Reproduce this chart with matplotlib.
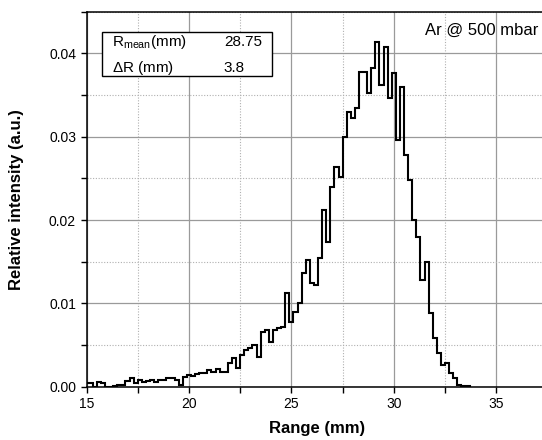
import numpy as np
import matplotlib
matplotlib.use('Agg')
import matplotlib.pyplot as plt
from matplotlib.patches import Rectangle
from matplotlib.ticker import MultipleLocator, FormatStrFormatter

plt.rcParams['font.family'] = ['Liberation Sans', 'DejaVu Sans']
plt.rcParams['mathtext.fontset'] = 'custom'
plt.rcParams['mathtext.rm'] = 'Liberation Sans'

# histogram of ranges, 0.2 mm bins (bin centres 15.0 ... 33.6)
bin_width = 0.2
range_centres = np.round(np.arange(15.0, 33.61, bin_width), 1)
intensity = [
    0.0004, 0.0004, 0.0000, 0.0006, 0.0005, 0.0000, 0.0000, 0.0001, 0.0002, 0.0002,  # 15.0-16.8
    0.0007, 0.0010, 0.0004, 0.0008, 0.0006, 0.0007, 0.0008, 0.0006, 0.0008, 0.0008,  # 17.0-18.8
    0.0010, 0.0011, 0.0008, 0.0002, 0.0012, 0.0014, 0.0013, 0.0015, 0.0016, 0.0017,  # 19.0-20.8
    0.0020, 0.0018, 0.0021, 0.0018, 0.0018, 0.0028, 0.0034, 0.0022, 0.0038, 0.0044,  # 21.0-22.8
    0.0046, 0.0050, 0.0036, 0.0066, 0.0068, 0.0054, 0.0068, 0.0070, 0.0072, 0.0112,  # 23.0-24.8
    0.0078, 0.0090, 0.0100, 0.0136, 0.0152, 0.0124, 0.0122, 0.0154, 0.0212, 0.0174,  # 25.0-26.8
    0.0240, 0.0264, 0.0252, 0.0300, 0.0330, 0.0322, 0.0334, 0.0378, 0.0378, 0.0352,  # 27.0-28.8
    0.0382, 0.0414, 0.0362, 0.0408, 0.0346, 0.0376, 0.0296, 0.0360, 0.0278, 0.0248,  # 29.0-30.8
    0.0200, 0.0180, 0.0128, 0.0150, 0.0088, 0.0058, 0.0040, 0.0026, 0.0029, 0.0016,  # 31.0-32.8
    0.0011, 0.0002, 0.0001, 0.0001,                                                  # 33.0-33.6
]

stat_labels = [r'R$_{\mathregular{mean}}$(mm)', r'$\Delta$R (mm)']
stat_values = ['28.75', '3.8']
condition = 'Ar @ 500 mbar'

edges = np.append(range_centres - bin_width / 2, range_centres[-1] + bin_width / 2)

fig = plt.figure(figsize=(5.42, 4.4), dpi=100)
# axes runs past the right border (picture is cropped there)
ax = fig.add_axes([86.5 / 542, (440 - 386.7) / 440, 461 / 542, 375 / 440])

ax.stairs(intensity, edges, color='black', lw=1.5, zorder=3)

ax.set_xlim(15, 37.5)
ax.set_ylim(0, 0.045)
ax.xaxis.set_major_locator(MultipleLocator(5))
ax.xaxis.set_minor_locator(MultipleLocator(2.5))
ax.yaxis.set_major_locator(MultipleLocator(0.01))
ax.yaxis.set_minor_locator(MultipleLocator(0.005))
ax.yaxis.set_major_formatter(FormatStrFormatter('%.2f'))

ax.grid(which='major', color='#9a9a9a', lw=0.9, ls='-', zorder=0)
ax.grid(which='minor', color='#b0b0b0', lw=0.8, ls=(0, (1, 1.5)), zorder=0)
ax.set_axisbelow(True)

ax.tick_params(which='both', direction='out', labelsize=10, width=1, top=False, right=False)
ax.tick_params(which='major', length=4.5, pad=3)
ax.tick_params(which='minor', length=4)
for s in ['left', 'bottom', 'top']:
    ax.spines[s].set_linewidth(1.1)
ax.spines['right'].set_visible(False)

ax.set_xlabel('Range (mm)', fontsize=12, fontweight='bold')
ax.set_ylabel('Relative intensity (a.u.)', fontsize=12, fontweight='bold')
ax.xaxis.set_label_coords(0.5, -0.092)
ax.yaxis.set_label_coords(-0.135, 0.5)

# stats box
ax.add_patch(Rectangle((15.74, 0.0373), 24.07 - 15.74, 0.0426 - 0.0373,
                       facecolor='white', edgecolor='black', lw=1, zorder=4))
row_y = [0.0414, 0.0382]
for lab, val, y in zip(stat_labels, stat_values, row_y):
    ax.text(16.25, y, lab, fontsize=11, va='center', ha='left', zorder=5)
    ax.text(21.7, y, val, fontsize=11, va='center', ha='left', zorder=5)

ax.text(37.05, 0.0428, condition, fontsize=12, ha='right', va='center', zorder=5)

fig.savefig('out.png', dpi=100)
